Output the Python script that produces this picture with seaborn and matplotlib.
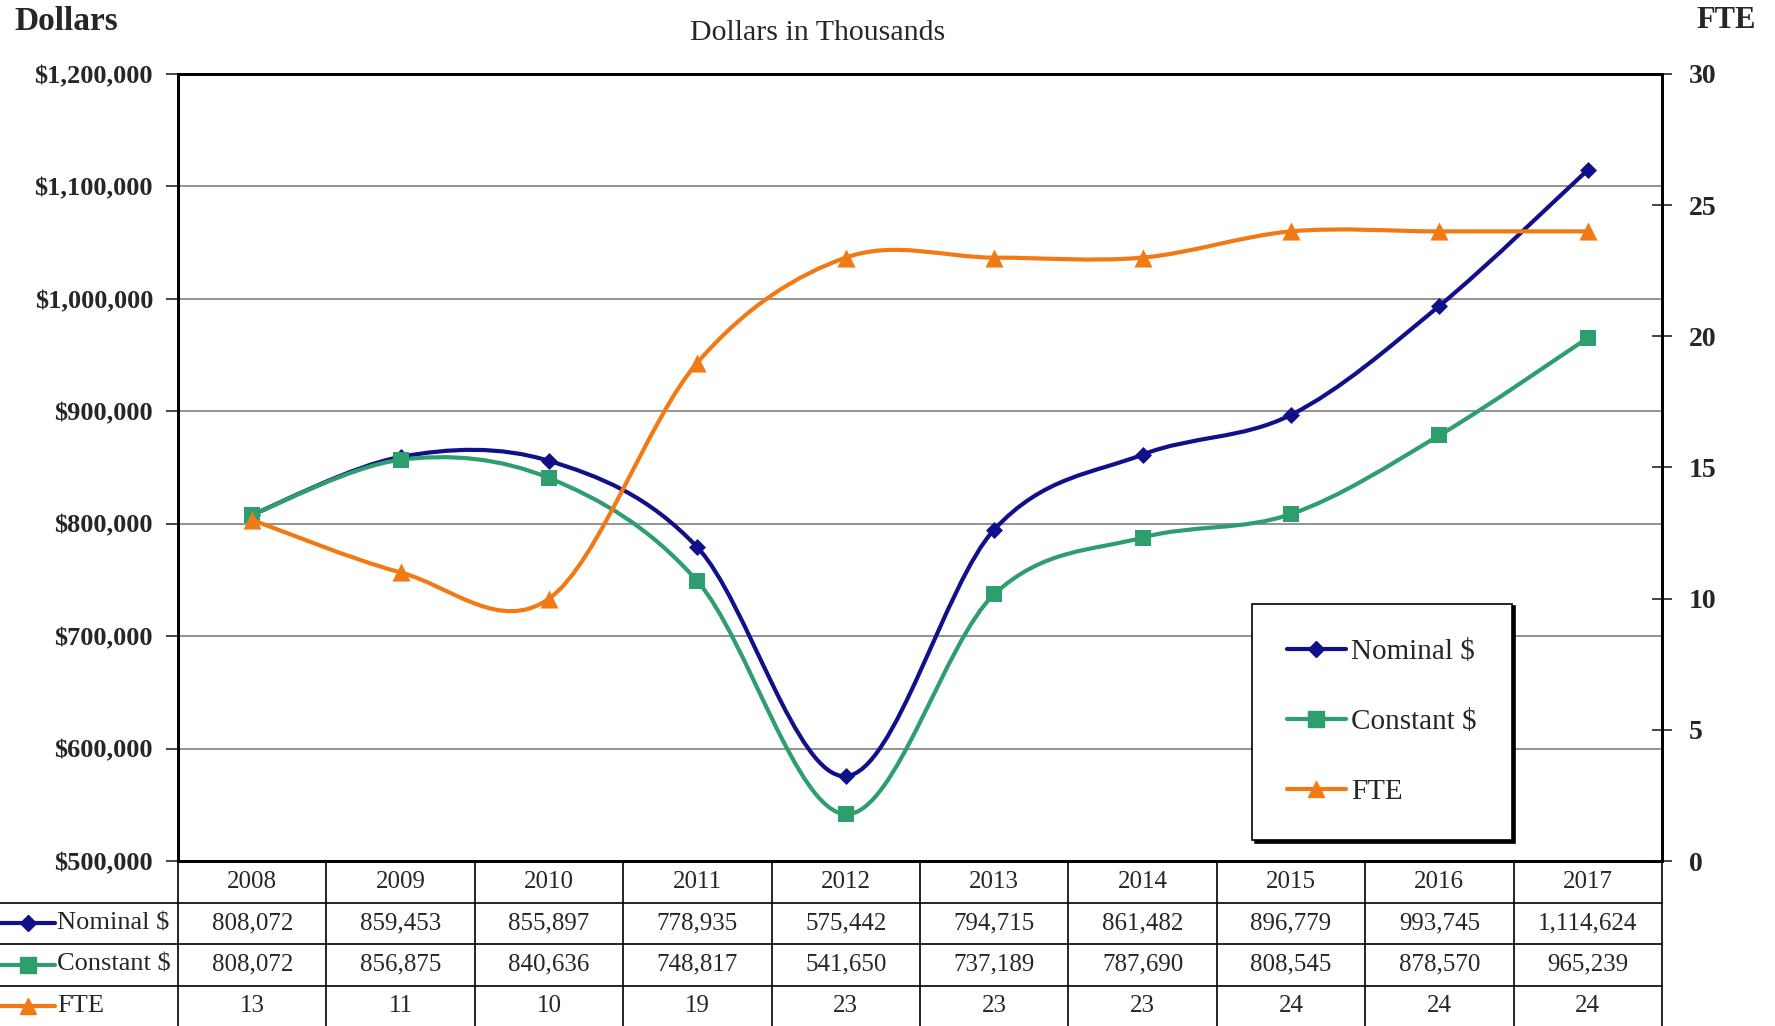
import numpy as np
import pandas as pd
import seaborn as sns
import matplotlib.pyplot as plt
from matplotlib.path import Path
from matplotlib.patches import PathPatch
from matplotlib.lines import Line2D
from matplotlib.transforms import blended_transform_factory

# data
years = ["2008", "2009", "2010", "2011", "2012", "2013", "2014", "2015", "2016", "2017"]
nominal = [808072, 859453, 855897, 778935, 575442, 794715, 861482, 896779, 993745, 1114624]
constant = [808072, 856875, 840636, 748817, 541650, 737189, 787690, 808545, 878570, 965239]
fte = [13, 11, 10, 19, 23, 23, 23, 24, 24, 24]

dollar_ticks = [500000, 600000, 700000, 800000, 900000, 1000000, 1100000, 1200000]
fte_ticks = [0, 5, 10, 15, 20, 25, 30]

NAVY = "#10108a"
GREEN = "#2f9e6f"
ORANGE = "#f27a14"

sns.set_theme(style="white")
plt.rcParams['font.family'] = ['Liberation Serif', 'DejaVu Serif']

df = pd.DataFrame({"year": years, "x": np.arange(len(years)),
                   "nominal": nominal, "constant": constant, "fte": fte})


def smooth_path(xs, ys):
    # Excel-style smoothed line: Catmull-Rom converted to cubic Bezier segments
    pts = np.column_stack([xs, ys]).astype(float)
    p = np.vstack([pts[0], pts, pts[-1]])
    verts = [pts[0]]
    codes = [Path.MOVETO]
    for i in range(len(pts) - 1):
        p0, p1, p2, p3 = p[i], p[i + 1], p[i + 2], p[i + 3]
        verts += [p1 + (p2 - p0) / 6, p2 - (p3 - p1) / 6, p2]
        codes += [Path.CURVE4] * 3
    return Path(verts, codes)


fig = plt.figure(figsize=(17.75, 10.26), dpi=100)
ax = fig.add_axes([0.1003, 0.1608, 0.836, 0.7671])
ax2 = ax.twinx()

# dollar series on the left axis
for col, color, marker, size in [("nominal", NAVY, "D", 75), ("constant", GREEN, "s", 135)]:
    ax.add_patch(PathPatch(smooth_path(df["x"], df[col]), facecolor="none",
                           edgecolor=color, lw=3, zorder=2))
    sns.scatterplot(data=df, x="x", y=col, ax=ax, marker=marker, s=size,
                    color=color, edgecolor=color, linewidth=0, zorder=3, legend=False)

# FTE on the right axis
ax2.add_patch(PathPatch(smooth_path(df["x"], df["fte"]), facecolor="none",
                        edgecolor=ORANGE, lw=3, zorder=2))
sns.scatterplot(data=df, x="x", y="fte", ax=ax2, marker="^", s=170,
                color=ORANGE, edgecolor=ORANGE, linewidth=0, zorder=3, legend=False)

ax.set_xlim(-0.5, len(years) - 0.5)
ax.set_ylim(dollar_ticks[0], dollar_ticks[-1])
ax.set_yticks(dollar_ticks)
ax.set_yticklabels([f"${v:,.0f}" for v in dollar_ticks], fontsize=19, fontweight="bold")
ax.set_xticks([])
ax.set_xlabel("")
ax.set_ylabel("")
ax.yaxis.grid(True, color="#808080", lw=1.2)
ax.set_axisbelow(True)
ax.tick_params(axis="y", direction="out", length=9, width=1.2, pad=9, left=True)

ax2.set_ylim(fte_ticks[0], fte_ticks[-1])
ax2.set_yticks(fte_ticks)
ax2.set_yticklabels([str(v) for v in fte_ticks], fontsize=20, fontweight="bold")
ax2.set_ylabel("")
ax2.grid(False)
ax2.tick_params(axis="y", direction="inout", length=15, width=1.2, pad=12, right=True)

for a in (ax, ax2):
    for s in a.spines.values():
        s.set_color("black")
        s.set_linewidth(2)

# header texts
fig.text(14 / 1775, 1 - 21 / 1026, "Dollars", ha="left", va="center",
         fontsize=24, fontweight="bold")
fig.text(1726 / 1775, 1 - 21 / 1026, "FTE", ha="center", va="center",
         fontsize=22, fontweight="bold")
fig.text(818 / 1775, 1 - 33 / 1026, "Dollars in Thousands", ha="center", va="center",
         fontsize=21.5)

# data table under the plot
h = 41.5 / 787
tcell = blended_transform_factory(ax.transData, ax.transAxes)
trow = blended_transform_factory(fig.transFigure, ax.transAxes)

for k in range(len(years) + 1):
    ax.add_artist(Line2D([k - 0.5, k - 0.5], [0, -0.3], transform=tcell,
                         color="black", lw=1.2, clip_on=False))
for r in range(1, 4):
    fig.add_artist(Line2D([0, 0.9363], [-r * h, -r * h], transform=trow,
                          color="black", lw=1.2, clip_on=False))

for i, yr in enumerate(years):
    ax.text(i, -0.5 * h, yr, transform=tcell, ha="center", va="center", fontsize=18)

rows = [("Nominal $", nominal, NAVY, "D", 8.5),
        ("Constant $", constant, GREEN, "s", 11),
        ("FTE", fte, ORANGE, "^", 12)]
for r, (label, vals, color, marker, ms) in enumerate(rows, start=1):
    yc = -(r + 0.5) * h
    fig.add_artist(Line2D([0.0, 0.016, 0.031], [yc, yc, yc], transform=trow,
                          color=color, lw=3, marker=marker, markersize=ms,
                          markevery=[1], clip_on=False))
    fig.text(0.032, yc, label, transform=trow, ha="left", va="center", fontsize=19)
    for i, v in enumerate(vals):
        ax.text(i, yc, f"{v:,}", transform=tcell, ha="center", va="center", fontsize=18)

# legend
handles = [Line2D([], [], color=c, lw=3, marker=m, markersize=ms)
           for _, _, c, m, ms in rows]
leg = fig.legend(handles, [r[0] for r in rows], loc="center",
                 bbox_to_anchor=(0.7786, 0.2963), fontsize=21, frameon=True,
                 fancybox=False, shadow={"color": "black", "alpha": 1},
                 borderpad=1.2, labelspacing=1.5, handlelength=2.0,
                 handletextpad=0.2, borderaxespad=0)
leg.get_frame().set_edgecolor("black")
leg.get_frame().set_linewidth(1.2)
leg.get_frame().set_alpha(1)

fig.savefig("out.png", dpi=100)
